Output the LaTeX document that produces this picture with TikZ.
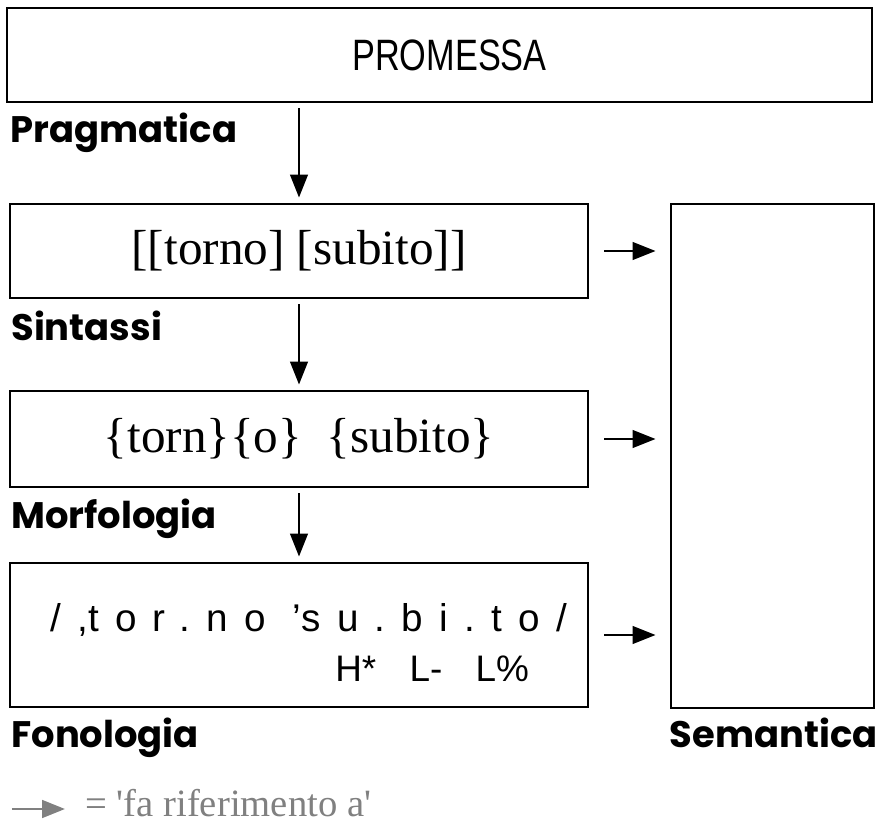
\documentclass[tikz,border=0pt]{standalone}
\usepackage{fontspec}
\setmainfont{Liberation Serif}
\newfontfamily\lblfont{Poppins}
\newfontfamily\promfont[FakeStretch=0.78]{Liberation Sans}
\newfontfamily\phonfont[LetterSpace=42]{Liberation Sans}
\newfontfamily\tonefont{Liberation Sans}
\usetikzlibrary{arrows.meta,positioning}
\definecolor{legendgray}{RGB}{128,128,128}

\begin{document}
\begin{tikzpicture}[
    box/.style={draw, line width=1.7pt, inner sep=0pt},
    lbl/.style={inner sep=0pt, anchor=base west, font=\lblfont\bfseries\fontsize{21}{21}\selectfont},
    down/.style={-{Triangle[length=13pt,width=10pt]}, line width=1.3pt, shorten <=0.1cm, shorten >=0.1cm},
    refers/.style={-{Triangle[length=13pt,width=10pt]}, line width=1.3pt, shorten <=0.3cm, shorten >=0.28cm}
  ]
  \useasboundingbox (0,0) rectangle (17.54,16.5);

  % boxes
  \node[box, minimum width=17.3cm, minimum height=1.88cm, font=\promfont\fontsize{25}{25}\selectfont] (promessa) at (8.79,15.4) {\hspace{0.4cm}PROMESSA};
  \node[box, minimum width=11.56cm, minimum height=1.88cm, font=\fontsize{28}{28}\selectfont] (sintassi) at (5.98,11.48) {[[torno] [subito]]};
  \node[box, minimum width=11.56cm, minimum height=1.92cm, font=\fontsize{28}{28}\selectfont] (morfologia) at (5.98,7.72) {\{torn\}\{o\}\ \ \{subito\}};
  \node[box, minimum width=11.56cm, minimum height=2.88cm] (fonologia) at (5.98,3.8) {};
  \node[box, minimum width=4.06cm, minimum height=10.08cm] (semantica) at (15.45,7.38) {};

  % phonological transcription
  \node[inner sep=0pt, anchor=base west, font=\phonfont\fontsize{22}{22}\selectfont] (trascr) at (1.0,3.86) {/,\hspace{0pt}tor.no ’\hspace{0pt}su.bi.to/};
  \node[inner sep=0pt, anchor=base west, font=\tonefont\fontsize{21}{21}\selectfont] (toni) at (6.7,2.86) {H*\hspace{0.9em}L-\hspace{0.9em}L\%};

  % level labels
  \node[lbl] (pragLbl) at ([xshift=0.1cm,yshift=-0.78cm]promessa.south west) {Pragmatica};
  \node[lbl] (sintLbl) at ([xshift=0.05cm,yshift=-0.82cm]sintassi.south west) {Sintassi};
  \node[lbl] (morfLbl) at ([xshift=0.05cm,yshift=-0.8cm]morfologia.south west) {Morfologia};
  \node[lbl] (fonLbl) at ([xshift=0.05cm,yshift=-0.78cm]fonologia.south west) {Fonologia};
  \node[lbl] (semLbl) at ([yshift=-0.76cm]semantica.south west) {Semantica};

  % arrows
  \draw[down] (sintassi.north |- promessa.south) -- (sintassi.north);
  \draw[down] (sintassi.south) -- (morfologia.north);
  \draw[down] (morfologia.south) -- (fonologia.north);
  \foreach \n in {sintassi,morfologia,fonologia}
    \draw[refers] (\n.east) -- (\n.east -| semantica.west);

  % legend
  \node[inner sep=0pt, anchor=base west, text=legendgray, font=\fontsize{22}{22}\selectfont] (legenda) at (1.7,0.18) {= \textquotesingle fa riferimento a\textquotesingle};
  \draw[legendgray, -{Triangle[length=13pt,width=10pt]}, line width=1.6pt] ([xshift=-1.46cm,yshift=0.14cm]legenda.base west) -- ([xshift=-0.4cm,yshift=0.14cm]legenda.base west);
\end{tikzpicture}
\end{document}
